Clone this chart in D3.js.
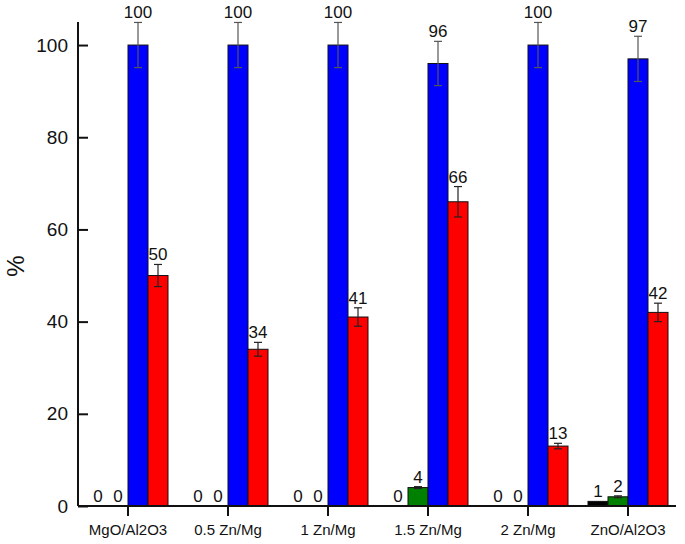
<!DOCTYPE html>
<html>
<head>
  <meta charset="utf-8">
  <script src="https://d3js.org/d3.v7.min.js"></script>
  <style>
    body { margin: 0; background: #fff; }
    text { font-family: Arial, "Liberation Sans", sans-serif; fill: #111; }
  </style>
</head>
<body>
<div id="root"></div>
<script>
// categories and series
var categories = ["MgO/Al2O3", "0.5 Zn/Mg", "1 Zn/Mg", "1.5 Zn/Mg", "2 Zn/Mg", "ZnO/Al2O3"];
var seriesNames = ["black", "green", "blue", "red"];
var seriesColors = ["#000000", "#008000", "#0000ff", "#ff0000"];

var blackValues = [0, 0, 0, 0, 0, 1];
var greenValues = [0, 0, 0, 4, 0, 2];
var blueValues  = [100, 100, 100, 96, 100, 97];
var redValues   = [50, 34, 41, 66, 13, 42];

// error bar half-widths (null = none drawn)
var blackErrors = [null, null, null, null, null, null];
var greenErrors = [null, null, null, 0.2, null, 0.2];
var blueErrors  = [4.9, 4.9, 4.9, 4.8, 4.9, 4.9];
var redErrors   = [2.4, 1.5, 2, 3.3, 0.6, 2];

var yTicks = [0, 20, 40, 60, 80, 100];

var allValues = [blackValues, greenValues, blueValues, redValues];
var allErrors = [blackErrors, greenErrors, blueErrors, redErrors];

var data = [];
categories.forEach(function(c, i) {
  seriesNames.forEach(function(s, j) {
    data.push({cat: c, series: s, color: seriesColors[j], value: allValues[j][i], err: allErrors[j][i]});
  });
});

var W = 685, H = 544;
var svg = d3.select("#root").append("svg").attr("width", W).attr("height", H);

var x = d3.scaleBand().domain(categories).range([78, 678]).padding(0);
var xs = d3.scaleBand().domain(seriesNames).range([10, 90]).padding(0);
var y = d3.scaleLinear().domain([0, 105]).range([506, 22]);

// bars
svg.append("g").selectAll("rect")
  .data(data.filter(function(d) { return d.value > 0; }))
  .enter().append("rect")
    .attr("x", function(d) { return x(d.cat) + xs(d.series); })
    .attr("y", function(d) { return y(d.value); })
    .attr("width", xs.bandwidth())
    .attr("height", function(d) { return y(0) - y(d.value); })
    .style("fill", function(d) { return d.color; })
    .style("stroke", "#111")
    .style("stroke-width", 1);

// error bars
var eb = svg.append("g").selectAll("g")
  .data(data.filter(function(d) { return d.err != null; }))
  .enter().append("g")
    .style("stroke", function(d) { return d.series == "blue" ? "#555" : "#222"; })
    .style("stroke-width", 1.2);
eb.append("line")
  .attr("x1", function(d) { return x(d.cat) + xs(d.series) + xs.bandwidth() / 2; })
  .attr("x2", function(d) { return x(d.cat) + xs(d.series) + xs.bandwidth() / 2; })
  .attr("y1", function(d) { return y(d.value + d.err); })
  .attr("y2", function(d) { return y(d.value - d.err); });
[1, -1].forEach(function(sign) {
  eb.append("line")
    .attr("x1", function(d) { return x(d.cat) + xs(d.series) + xs.bandwidth() / 2 - 4; })
    .attr("x2", function(d) { return x(d.cat) + xs(d.series) + xs.bandwidth() / 2 + 4; })
    .attr("y1", function(d) { return y(d.value + sign * d.err); })
    .attr("y2", function(d) { return y(d.value + sign * d.err); });
});

// value labels
svg.append("g").selectAll("text")
  .data(data)
  .enter().append("text")
    .attr("x", function(d) { return x(d.cat) + xs(d.series) + xs.bandwidth() / 2; })
    .attr("y", function(d) { return y(d.value + (d.err || 0)) - 4; })
    .attr("text-anchor", "middle")
    .style("font-size", "17px")
    .text(function(d) { return d.value; });

// x axis
var xAxis = svg.append("g")
  .attr("transform", "translate(0," + y(0) + ")")
  .call(d3.axisBottom(x).tickSize(10).tickSizeOuter(0).tickPadding(8));
xAxis.select(".domain").attr("d", "M78,0H676").style("stroke", "#111").style("stroke-width", 2);
xAxis.selectAll(".tick line").style("stroke", "#111").style("stroke-width", 2);
xAxis.selectAll(".tick text").style("font-size", "15px").style("font-family", "Arial, 'Liberation Sans', sans-serif").style("fill", "#111");

// y axis
var yAxis = svg.append("g")
  .attr("transform", "translate(78,0)")
  .call(d3.axisLeft(y).tickValues(yTicks).tickSize(-10).tickSizeOuter(0).tickPadding(10));
yAxis.select(".domain").attr("d", "M0,22V506").style("stroke", "#111").style("stroke-width", 2);
yAxis.selectAll(".tick line").style("stroke", "#111").style("stroke-width", 2);
yAxis.selectAll(".tick text").style("font-size", "19px").style("font-family", "Arial, 'Liberation Sans', sans-serif").style("fill", "#111");

// y label
svg.append("text")
  .attr("transform", "translate(24,266) rotate(-90)")
  .attr("text-anchor", "middle")
  .style("font-size", "24px")
  .text("%");
</script>
</body>
</html>
